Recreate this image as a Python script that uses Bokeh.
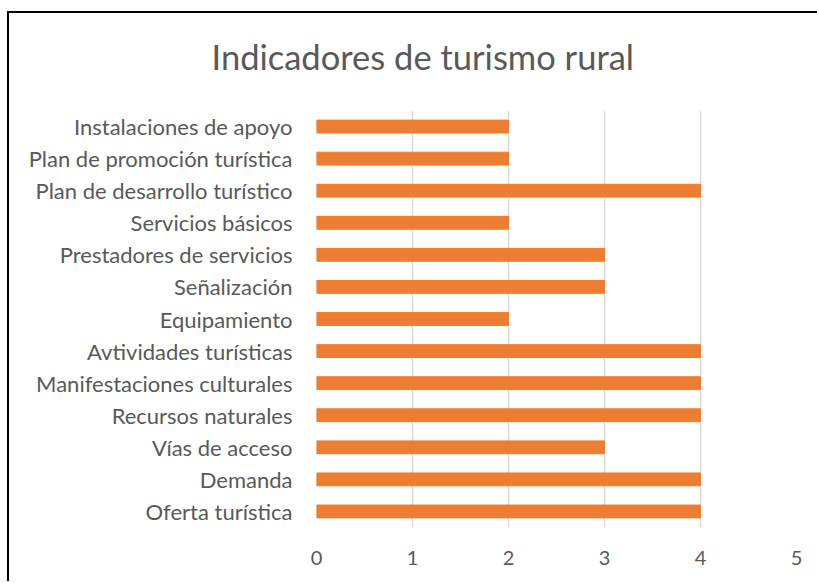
from bokeh.plotting import figure
from bokeh.models import FactorRange, Range1d, FixedTicker, Title
from bokeh.embed import file_html
from bokeh.resources import INLINE

categories = [
    "Instalaciones de apoyo",
    "Plan de promoción turística",
    "Plan de desarrollo turístico",
    "Servicios básicos",
    "Prestadores de servicios",
    "Señalización",
    "Equipamiento",
    "Avtividades turísticas",
    "Manifestaciones culturales",
    "Recursos naturales",
    "Vías de acceso",
    "Demanda",
    "Oferta turística",
]
values = [2, 2, 4, 2, 3, 3, 2, 4, 4, 4, 3, 4, 4]
x_ticks = [0, 1, 2, 3, 4, 5]
title_text = "Indicadores de turismo rural"

TEXT = "#595959"
FONT = "Lato"

W, H = 810, 570
FL, FR, FT, FB = 307, 787, 97, 514
p = figure(
    width=W, height=H,
    y_range=FactorRange(factors=list(reversed(categories)), range_padding=0),
    x_range=Range1d(0, 5),
    output_backend="svg", toolbar_location=None,
    min_border_left=FL, min_border_right=W - FR,
    min_border_top=FT, min_border_bottom=H - FB,
    title=Title(text=title_text, align="left", offset=-105,
                text_font=FONT, text_font_size="34.5px", text_font_style="normal",
                text_color=TEXT, standoff=20, vertical_align="bottom"),
)
# spacer between title and plot area
p.add_layout(Title(text=" ", text_font_size="1px", standoff=21), "above")

p.styles = {"border-top": "2px solid black", "border-left": "2px solid black",
            "margin-top": "11px", "margin-left": "7px"}
p.outline_line_color = None
p.background_fill_color = "white"
p.border_fill_color = "white"

p.hbar(y=categories, right=values, left=0, height=0.4, color="#ED7D31")

p.xaxis.ticker = FixedTicker(ticks=x_ticks)
p.xaxis.axis_line_color = None
p.xaxis.major_tick_line_color = None
p.xaxis.minor_tick_line_color = None
p.xaxis.major_label_text_font = FONT
p.xaxis.major_label_text_font_size = "20px"
p.xaxis.major_label_text_color = TEXT
p.xaxis.major_label_standoff = 17

p.yaxis.axis_line_color = None
p.yaxis.major_tick_line_color = None
p.yaxis.major_label_text_font = FONT
p.yaxis.major_label_text_font_size = "22px"
p.yaxis.major_label_text_color = TEXT
p.yaxis.major_label_standoff = 18

p.xgrid.grid_line_color = "#D9D9D9"
p.xgrid.grid_line_width = 1.5
p.ygrid.grid_line_color = None

open("out.html", "w").write(file_html(p, INLINE))
